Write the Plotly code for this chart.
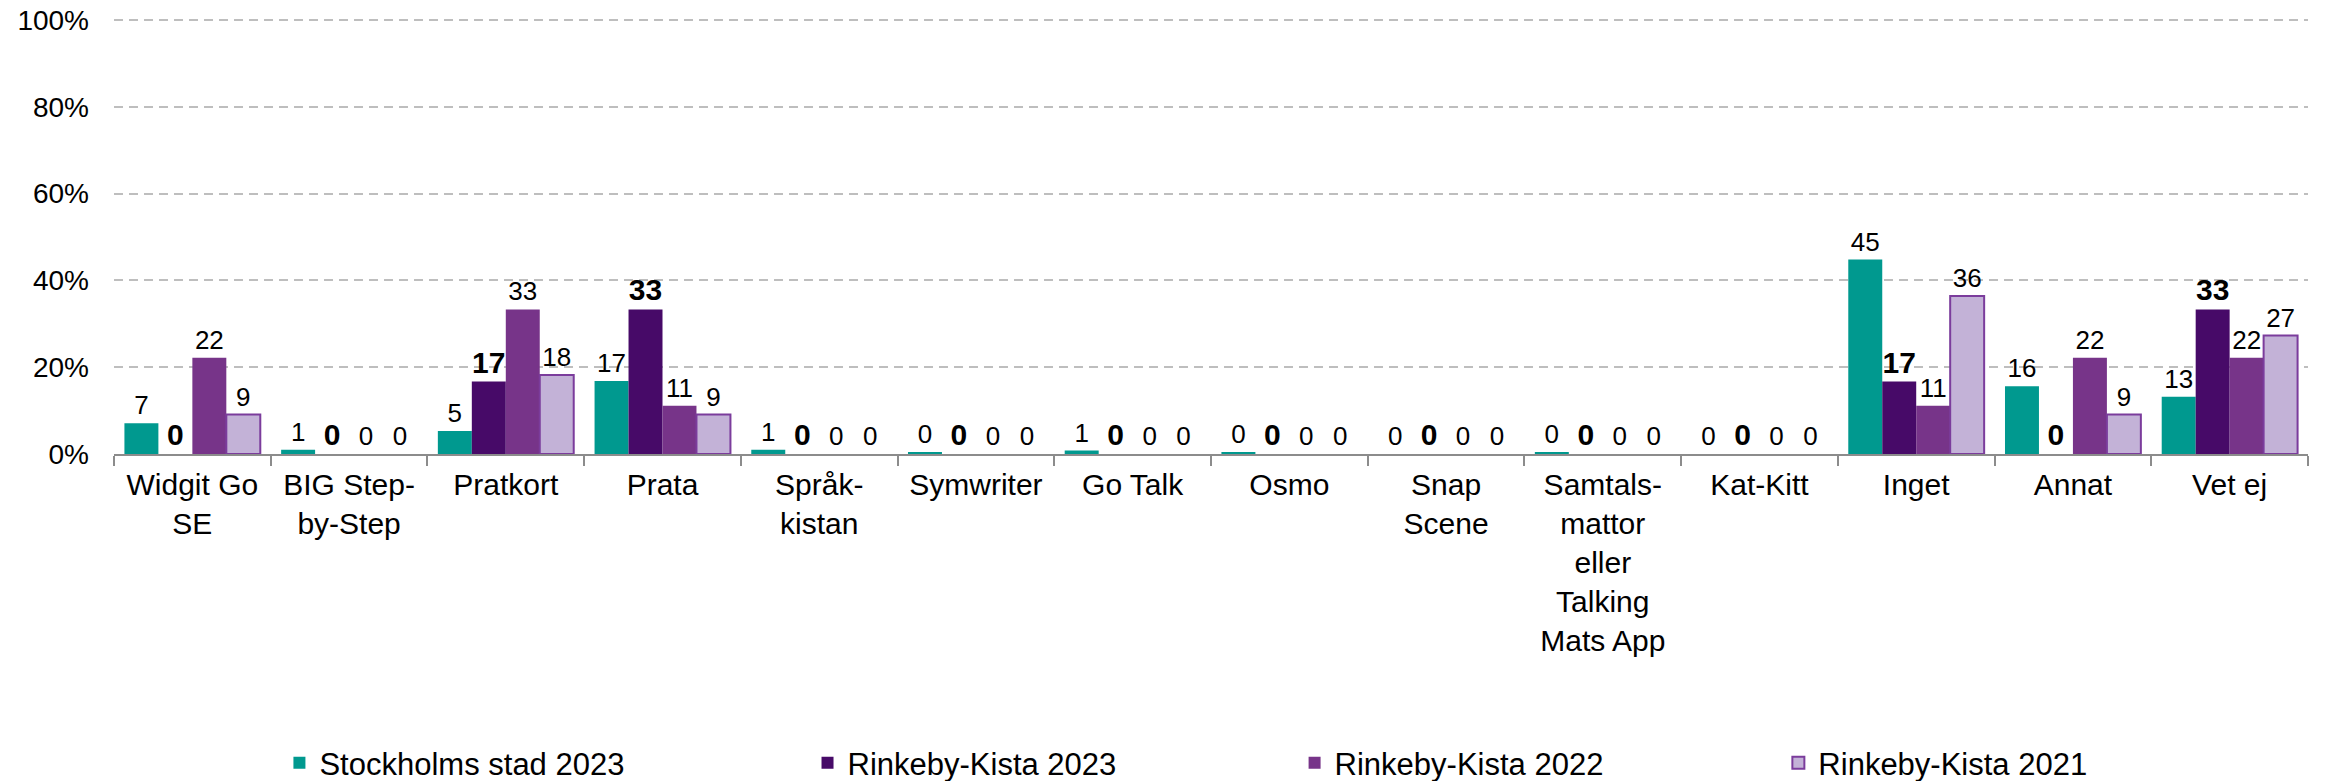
import plotly.graph_objects as go

categories = ["Widgit Go<br>SE", "BIG Step-<br>by-Step", "Pratkort", "Prata", "Språk-<br>kistan",
              "Symwriter", "Go Talk", "Osmo", "Snap<br>Scene",
              "Samtals-<br>mattor<br>eller<br>Talking<br>Mats App", "Kat-Kitt", "Inget", "Annat", "Vet ej"]

stockholm_2023 = [7.1, 1.0, 5.3, 16.8, 1.0, 0.3, 0.8, 0.3, 0.0, 0.3, 0.0, 44.8, 15.6, 13.2]
rinkeby_2023 = [0, 0, 16.7, 33.3, 0, 0, 0, 0, 0, 0, 0, 16.7, 0, 33.3]
rinkeby_2022 = [22.2, 0, 33.3, 11.1, 0, 0, 0, 0, 0, 0, 0, 11.1, 22.2, 22.2]
rinkeby_2021 = [9.1, 0, 18.2, 9.1, 0, 0, 0, 0, 0, 0, 0, 36.4, 9.1, 27.3]

y_tickvals = [0, 20, 40, 60, 80, 100]
y_ticktext = ["0%", "20%", "40%", "60%", "80%", "100%"]

series_names = ["Stockholms stad 2023", "Rinkeby-Kista 2023", "Rinkeby-Kista 2022", "Rinkeby-Kista 2021"]
series_values = [stockholm_2023, rinkeby_2023, rinkeby_2022, rinkeby_2021]
colors = ["#00998F", "#470A68", "#773489", "#C3B2D7"]
line_colors = ["#00998F", "#470A68", "#773489", "#7B3C9C"]
line_widths = [0, 0, 0, 2]
legend_ids = ["legend", "legend2", "legend3", "legend4"]
legend_x = [0.0754, 0.3161, 0.5381, 0.7586]

FONT = "Liberation Sans, Arial, sans-serif"

fig = go.Figure()
for i, (name, vals) in enumerate(zip(series_names, series_values)):
    bold = (i == 1)
    fig.add_trace(go.Bar(
        name=name,
        x=categories,
        y=vals,
        text=[f"{round(v):d}" for v in vals],
        textposition="outside",
        textfont=dict(family=FONT, size=30 if bold else 26, color="black",
                      weight="bold" if bold else "normal"),
        constraintext="none",
        cliponaxis=False,
        marker=dict(color=colors[i],
                    line=dict(color=line_colors[i],
                              width=[line_widths[i] if v > 0 else 0 for v in vals])),
        legend=legend_ids[i],
        showlegend=True,
        hoverinfo="skip",
    ))

fig.update_layout(
    width=2331, height=781,
    margin=dict(l=114, r=23, t=16, b=327),
    plot_bgcolor="white", paper_bgcolor="white",
    barmode="group", bargap=0.133, bargroupgap=0,
    font=dict(family=FONT, color="black", size=30),
    showlegend=True,
)

for lid, lx in zip(legend_ids, legend_x):
    fig.update_layout({lid: dict(x=lx, y=0.023, yref="container", xanchor="left", yanchor="middle",
                                 orientation="h", bgcolor="rgba(0,0,0,0)",
                                 font=dict(family=FONT, size=31, color="black"),
                                 itemclick=False, itemdoubleclick=False)})

fig.update_xaxes(
    type="category", automargin=False,
    showline=True, linecolor="#8C8C8C", linewidth=2,
    ticks="outside", tickson="boundaries", ticklen=10, tickwidth=2, tickcolor="#8C8C8C",
    tickfont=dict(family=FONT, size=30, color="black"),
    ticklabelstandoff=3,
    showgrid=False,
)
fig.update_yaxes(
    automargin=False,
    range=[0, 100.92], tickmode="array", tickvals=y_tickvals, ticktext=y_ticktext,
    showgrid=True, gridcolor="#BEBEBE", gridwidth=2, griddash="9px,6px",
    zeroline=False, showline=False, ticks="",
    tickfont=dict(family=FONT, size=28, color="black"),
    ticklabelstandoff=24,
)

# remove the default 8px page margin so the figure fills the window exactly
fig.write_html("out.html", config={"displayModeBar": False},
               post_script="document.body.style.margin='0';")
